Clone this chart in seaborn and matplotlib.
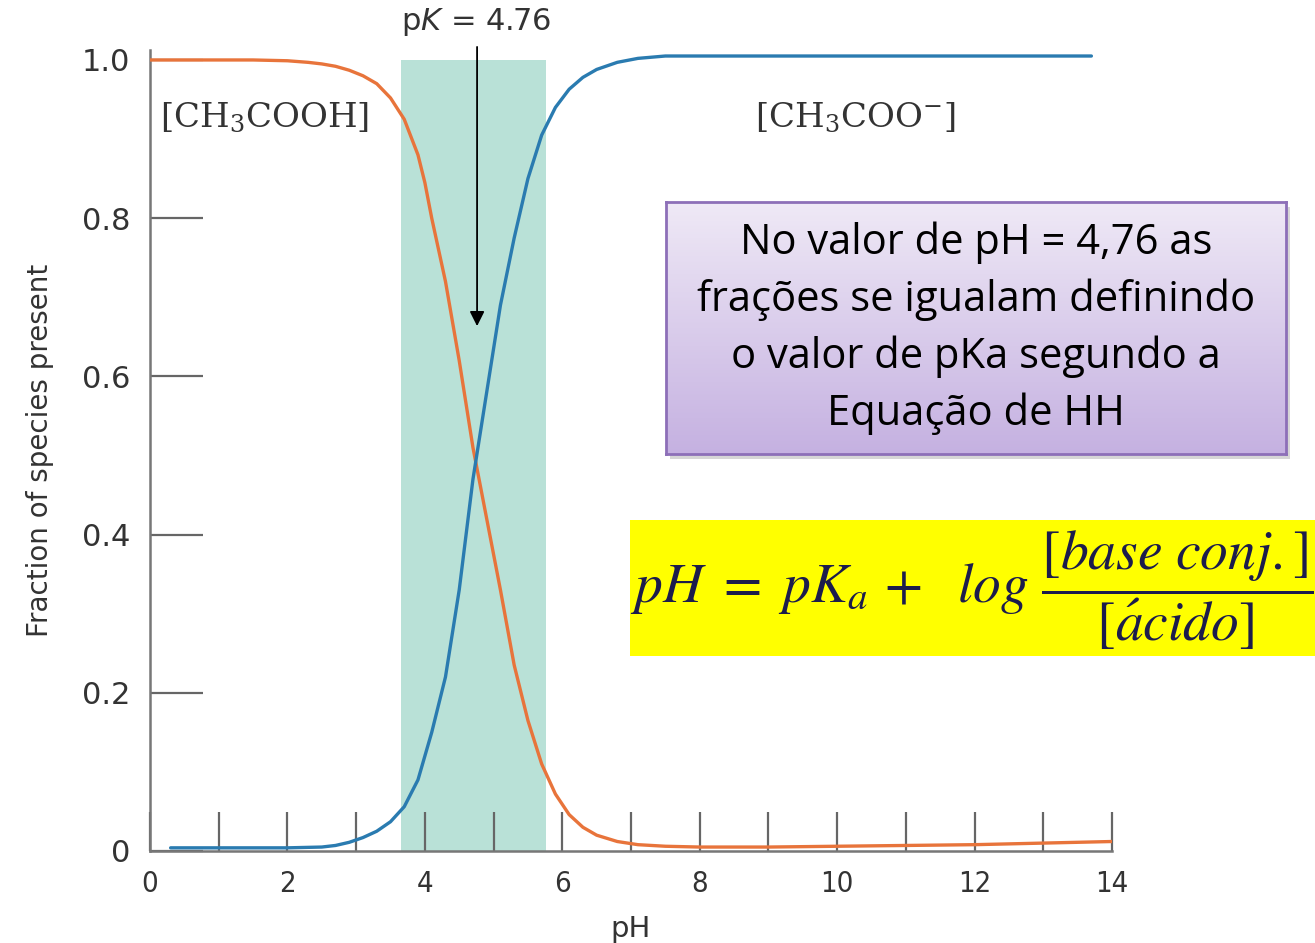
import numpy as np
import pandas as pd
import matplotlib
matplotlib.use('Agg')
import matplotlib.pyplot as plt
import seaborn as sns
from matplotlib.patches import Rectangle

# Dados (fração de espécies vs pH)
ph_acido = [0, 1, 1.5, 2, 2.3, 2.5, 2.7, 2.9, 3.1, 3.3, 3.5, 3.7, 3.9, 4.0, 4.1, 4.3,
            4.5, 4.7, 4.9, 5.1, 5.3, 5.5, 5.7, 5.9, 6.1, 6.3, 6.5, 6.8, 7.1, 7.5, 8, 9,
            10, 11, 12, 13, 14]
fr_acido = [1.0, 1.0, 1.0, 0.999, 0.997, 0.995, 0.992, 0.987, 0.98, 0.97, 0.952, 0.925,
            0.88, 0.845, 0.80, 0.72, 0.62, 0.51, 0.42, 0.33, 0.235, 0.165, 0.11, 0.072,
            0.046, 0.03, 0.02, 0.012, 0.008, 0.006, 0.005, 0.005, 0.006, 0.007, 0.008,
            0.01, 0.012]

ph_base = [0.3, 1, 2, 2.5, 2.7, 2.9, 3.1, 3.3, 3.5, 3.7, 3.9, 4.1, 4.3, 4.5, 4.7, 4.9,
           5.1, 5.3, 5.5, 5.7, 5.9, 6.1, 6.3, 6.5, 6.8, 7.1, 7.5, 8, 10, 12, 13.7]
fr_base = [0.004, 0.004, 0.004, 0.005, 0.007, 0.011, 0.017, 0.025, 0.037, 0.056, 0.09,
           0.15, 0.22, 0.33, 0.47, 0.58, 0.69, 0.775, 0.85, 0.905, 0.94, 0.963, 0.978,
           0.988, 0.997, 1.002, 1.005, 1.005, 1.005, 1.005, 1.005]

faixa_tampao = (3.65, 5.76)
pk = 4.76

xticks = list(range(0, 15))
xticklabels = [str(t) if t % 2 == 0 else '' for t in xticks]
yticks = [0, 0.2, 0.4, 0.6, 0.8, 1.0]
yticklabels = ['0', '0.2', '0.4', '0.6', '0.8', '1.0']

df = pd.concat([
    pd.DataFrame({'pH': ph_acido, 'fracao': fr_acido, 'especie': 'acido'}),
    pd.DataFrame({'pH': ph_base, 'fracao': fr_base, 'especie': 'base'}),
])

sns.set_style('white')
plt.rcParams['font.family'] = ['DejaVu Sans']

W, H = 1315, 943
fig = plt.figure(figsize=(W / 100, H / 100), dpi=100)


def fx(x):
    return x / W


def fy(y):
    return 1 - y / H


ax = fig.add_axes([fx(150), fy(851), 962 / W, 801 / H])

ax.axvspan(*faixa_tampao, ymin=0, ymax=1.0 / 1.0126, color='#b9e1d7', lw=0, zorder=0)

sns.lineplot(data=df, x='pH', y='fracao', hue='especie',
             palette={'acido': '#e8743b', 'base': '#2a7bb0'},
             linewidth=2.4, legend=False, ax=ax, zorder=3)

ax.set_xlim(0, 14)
ax.set_ylim(0, 1.0126)
ax.set_xticks(xticks)
ax.set_xticklabels(xticklabels, fontsize=21, color='#333333', fontstretch='condensed')
ax.set_yticks(yticks)
ax.set_yticklabels(yticklabels, fontsize=22, color='#333333')
ax.tick_params(axis='x', bottom=True, direction='in', length=28, width=1.6,
               color='#666666', pad=14)
ax.tick_params(axis='y', left=True, direction='in', length=38, width=1.6,
               color='#666666', pad=14)
for s in ['top', 'right']:
    ax.spines[s].set_visible(False)
for s in ['left', 'bottom']:
    ax.spines[s].set_color('#777777')
    ax.spines[s].set_linewidth(1.8)

ax.set_xlabel('pH', fontsize=21, color='#333333', labelpad=12)
ax.set_ylabel('Fraction of species present', fontsize=20, color='#333333', labelpad=20)

# Seta do pK
ax.annotate('', xy=(pk, 0.66), xytext=(pk, 1.02),
            arrowprops=dict(arrowstyle='-|>', color='black', lw=1.3,
                            mutation_scale=22), annotation_clip=False)
fig.text(fx(476), fy(22), r'p$\mathit{K}$ = 4.76', ha='center', va='center',
         fontsize=22, color='#333333', math_fontfamily='dejavusans')

fig.text(fx(160), fy(118), r'$\mathrm{[CH_3COOH]}$', ha='left', va='center',
         fontsize=24.5, color='#333333', math_fontfamily='dejavuserif')
fig.text(fx(755), fy(118), r'$\mathrm{[CH_3COO^{-}]}$', ha='left', va='center',
         fontsize=24.5, color='#333333', math_fontfamily='dejavuserif')

# Caixa roxa com gradiente
bx0, by0, bx1, by1 = 666, 202, 1286, 454
fig.patches.append(Rectangle((fx(bx0 + 4), fy(by1 + 5)), (bx1 - bx0) / W, (by1 - by0) / H,
                             transform=fig.transFigure, color='#9a9a9a', alpha=0.4,
                             lw=0, zorder=0.5))
box_ax = fig.add_axes([fx(bx0), fy(by1), (bx1 - bx0) / W, (by1 - by0) / H])
box_ax.set_zorder(1)
grad = np.linspace(0, 1, 256).reshape(-1, 1)
cmap = matplotlib.colors.LinearSegmentedColormap.from_list('roxo', ['#efe9f6', '#c5b1e1'])
box_ax.imshow(grad, aspect='auto', cmap=cmap, extent=[0, 1, 0, 1], origin='upper')
box_ax.set_xticks([])
box_ax.set_yticks([])
for s in box_ax.spines.values():
    s.set_color('#8d6fb8')
    s.set_linewidth(2)

linhas = ['No valor de pH = 4,76 as', 'frações se igualam definindo',
          'o valor de pKa segundo a', 'Equação de HH']
for i, t in enumerate(linhas):
    fig.text(fx(976), fy(243 + 57 * i), t, ha='center', va='center', fontsize=30,
             color='black', family=['Open Sans', 'DejaVu Sans'], zorder=4)

# Equação de Henderson-Hasselbalch
fig.patches.append(Rectangle((fx(630), fy(656)), (W - 630) / W, 136 / H,
                             transform=fig.transFigure, color='#ffff00', lw=0, zorder=1))
fig.text(fx(630), fy(590),
         r'$pH\ =\ pK_a\,+\ \ log\ \dfrac{[base\ conj.]}{[\acute{a}cido]}$',
         ha='left', va='center', fontsize=40, color='#1c1c4c', math_fontfamily='stix',
         zorder=4)

fig.savefig('out.png', dpi=100)
